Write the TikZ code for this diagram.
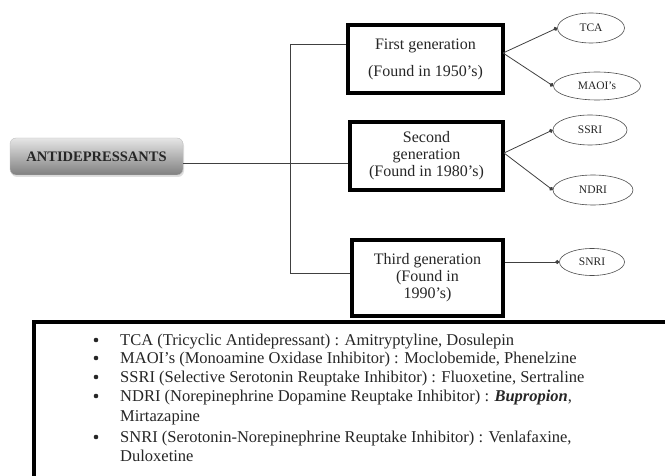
\documentclass[tikz,border=0pt]{standalone}
\usepackage{fontspec}
\setmainfont{Liberation Serif}
\usetikzlibrary{arrows.meta,shapes.geometric,shadows,calc}
\begin{document}
\begin{tikzpicture}[x=1pt,y=-1pt,
  rootbox/.style={rounded corners=6pt, minimum width=173pt, minimum height=37pt,
    top color=black!10, bottom color=black!50, draw=black!25,
    drop shadow={opacity=0.25, shadow xshift=1pt, shadow yshift=-2pt},
    font=\fontsize{14.5}{16}\selectfont\bfseries, text=black!85, inner sep=0pt},
  genbox/.style={draw, line width=3.5pt, fill=white, align=center,
    font=\fontsize{16}{17}\selectfont, text=black!85, inner sep=0pt},
  drug/.style={ellipse, draw=black!70, line width=0.6pt, inner sep=0pt,
    font=\fontsize{11.5}{13}\selectfont, text=black!85},
  conn/.style={draw=black!75, line width=0.8pt},
  arr/.style={conn, -{Circle[length=4pt]}},
  listtext/.style={anchor=base west, inner sep=0pt, font=\fontsize{16.5}{19}\selectfont, text=black!85},
  bul/.style={circle, fill=black!85, inner sep=0pt, minimum size=4.6pt},
  frame/.style={draw=black, line width=3.5pt}
]
\useasboundingbox (0,0) rectangle (665,476);

% bottom list frame
\draw[frame] (700,322) -- (34,322) -- (34,500);

% root
\node[rootbox] (root) at (96.5,156.5) {ANTIDEPRESSANTS};

% generation boxes
\node[genbox, minimum width=155pt, minimum height=68pt] (g1) at (425.5,59)
  {First generation\\[10pt](Found in 1950's)};
\node[genbox, minimum width=153pt, minimum height=68pt] (g2) at (426.5,156)
  {Second\\generation\\(Found in 1980's)};
\node[genbox, minimum width=151pt, minimum height=76pt] (g3) at (427.5,278)
  {Third generation\\(Found in\\1990's)};

% drug ellipses
\node[drug, minimum width=67pt, minimum height=30pt] (tca) at (591,28) {TCA};
\node[drug, minimum width=87pt, minimum height=28pt] (maoi) at (597,86) {MAOI's};
\node[drug, minimum width=74pt, minimum height=30pt] (ssri) at (590,130) {SSRI};
\node[drug, minimum width=80pt, minimum height=30pt] (ndri) at (593,190) {NDRI};
\node[drug, minimum width=65pt, minimum height=27pt] (snri) at (592,262) {SNRI};

% tree connectors
\coordinate (j1) at (290,44);
\coordinate (j2) at (290,163);
\coordinate (j3) at (290,273);
\draw[conn] (root.east |- j2) -- (g2.west |- j2);
\draw[conn] (j1) -- (j3);
\draw[conn] (j1) -- (g1.west |- j1);
\draw[conn] (j3) -- (g3.west |- j3);

% arrows to drugs
\coordinate (o1) at (503,53);
\coordinate (o2) at (504,153);
\draw[arr] (o1) -- (tca.west);
\draw[arr] (o1) -- (maoi.west);
\draw[arr] (o2) -- (ssri.west);
\draw[arr] (o2) -- (ndri.west);
\draw[arr] (g3.east |- snri.west) -- (snri.west);

% list
\node[bul] (b1) at (96,340) {};
\node[bul] (b2) at (96,358) {};
\node[bul] (b3) at (96,377) {};
\node[bul] (b4) at (96,396) {};
\node[bul] (b5) at (96,437) {};
\node[listtext] (l1) at (120,345) {TCA (Tricyclic Antidepressant) : Amitryptyline, Dosulepin};
\node[listtext] (l2) at (120,363) {MAOI's (Monoamine Oxidase Inhibitor) : Moclobemide, Phenelzine};
\node[listtext] (l3) at (120,382) {SSRI (Selective Serotonin Reuptake Inhibitor) : Fluoxetine, Sertraline};
\node[listtext] (l4) at (120,401) {NDRI (Norepinephrine Dopamine Reuptake Inhibitor) : \textbf{\textit{Bupropion}},};
\node[listtext] (l5) at (120,421) {Mirtazapine};
\node[listtext] (l6) at (120,442) {SNRI (Serotonin-Norepinephrine Reuptake Inhibitor) : Venlafaxine,};
\node[listtext] (l7) at (120,461) {Duloxetine};
\end{tikzpicture}
\end{document}
